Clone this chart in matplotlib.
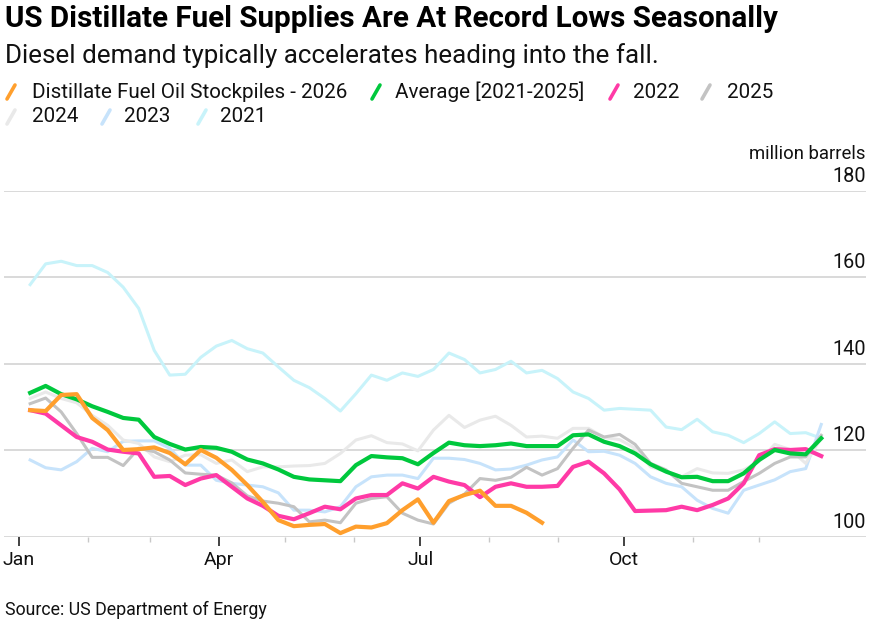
import numpy as np
import pandas as pd
import matplotlib
matplotlib.use("Agg")
import matplotlib.pyplot as plt
import matplotlib.dates as mdates
from matplotlib.lines import Line2D

# weekly stock levels, million barrels
weeks = pd.date_range("2026-01-06", periods=52, freq="7D")

stocks2026 = [129.3, 129.1, 132.8, 133.0, 127.5, 124.7, 120.1, 120.3, 120.7, 119.4,
              116.8, 120.1, 118.3, 115.5, 112.0, 108.1, 103.9, 102.5, 102.8, 103.0,
              100.9, 102.4, 102.2, 103.2, 106.2, 108.7, 103.3, 108.3, 109.7, 110.7,
              107.2, 107.2, 105.6, 103.3]
average = [133.3, 134.9, 133.0, 131.8, 130.2, 128.9, 127.5, 127.1, 123.1, 121.5,
           120.2, 120.8, 120.6, 119.7, 117.9, 117.0, 115.6, 113.9, 113.3, 113.1,
           112.9, 116.6, 118.7, 118.4, 118.2, 116.8, 119.4, 121.8, 121.2, 121.0,
           121.2, 121.6, 121.0, 121.0, 121.0, 123.5, 123.7, 122.0, 121.0, 119.3,
           116.8, 115.1, 113.8, 113.9, 112.9, 112.9, 114.7, 117.8, 120.1, 119.3,
           119.1, 122.8]
y2022 = [129.3, 128.5, 125.8, 123.1, 122.0, 120.2, 119.7, 119.3, 113.9, 114.1,
         112.0, 113.5, 114.3, 111.6, 108.9, 107.2, 104.9, 104.1, 105.5, 107.0,
         106.4, 108.9, 109.7, 109.7, 112.4, 111.2, 113.9, 112.8, 112.0, 109.2,
         111.6, 112.4, 111.6, 111.6, 111.8, 116.2, 117.4, 114.7, 111.0, 106.0,
         106.1, 106.2, 107.0, 106.2, 107.4, 108.9, 112.4, 118.9, 120.3, 120.1,
         120.3, 118.7]
y2025 = [130.8, 132.1, 128.9, 123.9, 118.4, 118.4, 116.5, 120.5, 119.7, 117.8,
         114.8, 114.5, 114.3, 112.5, 109.5, 108.3, 107.8, 107.0, 103.5, 103.9,
         103.3, 107.8, 108.9, 109.3, 105.5, 103.9, 103.0, 107.8, 109.9, 113.5,
         113.1, 113.8, 116.1, 114.3, 115.8, 120.5, 124.7, 123.1, 123.7, 121.4,
         117.0, 115.5, 112.4, 111.6, 110.8, 110.8, 112.8, 114.7, 117.0, 118.5,
         118.5, 123.5]
y2024 = [132.0, 133.5, 132.0, 131.0, 128.1, 125.8, 122.4, 121.6, 118.5, 117.4,
         118.9, 119.0, 117.0, 117.8, 115.1, 116.2, 116.2, 116.4, 116.5, 117.0,
         119.3, 122.4, 123.4, 121.8, 121.5, 119.9, 124.7, 128.1, 125.3, 127.0,
         127.9, 125.8, 123.1, 123.3, 122.8, 125.1, 125.1, 123.0, 122.5, 120.5,
         116.2, 115.1, 113.9, 115.8, 114.8, 114.7, 115.5, 117.5, 121.4, 120.2,
         117.0, 123.0]
y2023 = [117.8, 116.0, 115.5, 117.4, 120.5, 119.7, 122.1, 122.2, 122.2, 120.5,
         116.6, 116.6, 113.1, 112.4, 112.0, 111.6, 110.2, 106.2, 106.2, 105.8,
         107.0, 111.6, 113.9, 114.3, 114.3, 113.5, 118.2, 118.2, 117.9, 117.0,
         115.5, 115.7, 116.6, 117.8, 118.5, 122.4, 119.7, 119.8, 118.9, 117.0,
         113.9, 112.4, 111.6, 108.5, 106.6, 105.5, 110.8, 112.0, 113.2, 115.1,
         115.8, 126.0]
y2021 = [158.3, 163.1, 163.7, 162.7, 162.7, 161.1, 157.7, 152.8, 143.1, 137.4,
         137.6, 141.5, 144.1, 145.4, 143.5, 142.5, 139.3, 136.2, 134.5, 132.0,
         129.1, 133.1, 137.4, 136.2, 137.9, 137.1, 138.7, 142.5, 141.0, 137.9,
         138.7, 140.6, 137.9, 138.5, 136.6, 133.5, 132.0, 129.3, 129.7, 129.5,
         129.3, 125.4, 124.8, 127.2, 124.3, 123.5, 121.8, 123.9, 126.6, 123.9,
         124.1, 122.8]

yticks = [100, 120, 140, 160, 180]
month_labels = {1: "Jan", 4: "Apr", 7: "Jul", 10: "Oct"}

# colours / widths
cOrange = "#ff9f2d"
cGreen = "#00c83d"
cPink = "#ff3aa6"
cGray = "#c3c3c3"
cLightGray = "#e9e9e9"
cLightBlue = "#c7e3fb"
cCyan = "#c8f3fa"

W, H = 879, 626
plt.rcParams['font.family'] = ['Roboto', 'DejaVu Sans']

fig = plt.figure(figsize=(W / 100, H / 100), dpi=100)
ax = fig.add_axes([4 / W, 1 - 537 / H, 862 / W, (537 - 190.7) / H])

def px(x, y):
    return x / W, 1 - y / H

# background years first, then 2022, average, 2026 on top
ax.plot(weeks, y2021, color=cCyan, lw=2.2, solid_joinstyle='round', zorder=2)
ax.plot(weeks, y2023, color=cLightBlue, lw=2.2, solid_joinstyle='round', zorder=2)
ax.plot(weeks, y2024, color=cLightGray, lw=2.2, solid_joinstyle='round', zorder=2)
ax.plot(weeks, y2025, color=cGray, lw=2.2, solid_joinstyle='round', zorder=3)
ax.plot(weeks, y2022, color=cPink, lw=3.0, solid_joinstyle='round', zorder=4)
ax.plot(weeks, average, color=cGreen, lw=3.0, solid_joinstyle='round', zorder=5)
ax.plot(weeks[:len(stocks2026)], stocks2026, color=cOrange, lw=3.0,
        solid_joinstyle='round', zorder=6)

ax.set_ylim(yticks[0], yticks[-1])
start = pd.Timestamp("2026-01-01")
ax.set_xlim(start - pd.Timedelta(days=6.8), start + pd.Timedelta(days=382.2))

for s in ax.spines.values():
    s.set_visible(False)
ax.set_yticks(yticks)
ax.yaxis.grid(True, color="#cfcfcf", lw=1.1)
ax.tick_params(axis='y', length=0, labelleft=False)
ax.set_axisbelow(True)

for v in yticks:
    ax.annotate(str(v), xy=(1, v), xycoords=('axes fraction', 'data'),
                xytext=(0, 6.5), textcoords='offset points',
                ha='right', va='baseline', fontsize=14.3, color="#111")
ax.annotate("million barrels", xy=(1, yticks[-1]), xycoords=('axes fraction', 'data'),
            xytext=(0, 23), textcoords='offset points',
            ha='right', va='baseline', fontsize=13.3, color="#111")

major = [pd.Timestamp(2026, m, 1) for m in month_labels]
minor = [pd.Timestamp(2026, m, 1) for m in range(1, 13) if m not in month_labels]
ax.set_xticks(major)
ax.set_xticklabels(list(month_labels.values()))
ax.set_xticks(minor, minor=True)
ax.tick_params(axis='x', which='major', length=6.5, width=1.2, color="#222",
               pad=3.5, labelsize=14, labelcolor="#111")
ax.tick_params(axis='x', which='minor', length=3.6, width=1.0, color="#c8c8c8")

# titles
fig.text(*px(5, 19), "US Distillate Fuel Supplies Are At Record Lows Seasonally",
         fontsize=21.3, weight='bold', va='center', ha='left', color="#000")
fig.text(*px(5, 56), "Diesel demand typically accelerates heading into the fall.",
         fontsize=18.7, va='center', ha='left', color="#111")

# legend with slash swatches
legend_items = [
    ("Distillate Fuel Oil Stockpiles - 2026", cOrange, 11, 32, 92),
    ("Average [2021-2025]", cGreen, 376, 395, 92),
    ("2022", cPink, 614, 633, 92),
    ("2025", cGray, 706, 727, 92),
    ("2024", cLightGray, 11, 32, 117),
    ("2023", cLightBlue, 106, 124, 117),
    ("2021", cCyan, 202, 220, 117),
]
for label, col, sx, tx, ty in legend_items:
    x0, y0 = px(sx - 4, ty + 7)
    x1, y1 = px(sx + 4, ty - 7)
    fig.add_artist(Line2D([x0, x1], [y0, y1], color=col, lw=2.6,
                          solid_capstyle='round'))
    fig.text(*px(tx, ty), label, fontsize=14.9, va='center', ha='left', color="#111")

fig.text(*px(5, 610), "Source: US Department of Energy", fontsize=12.8,
         va='center', ha='left', color="#111")

fig.savefig("out.png", dpi=100)
